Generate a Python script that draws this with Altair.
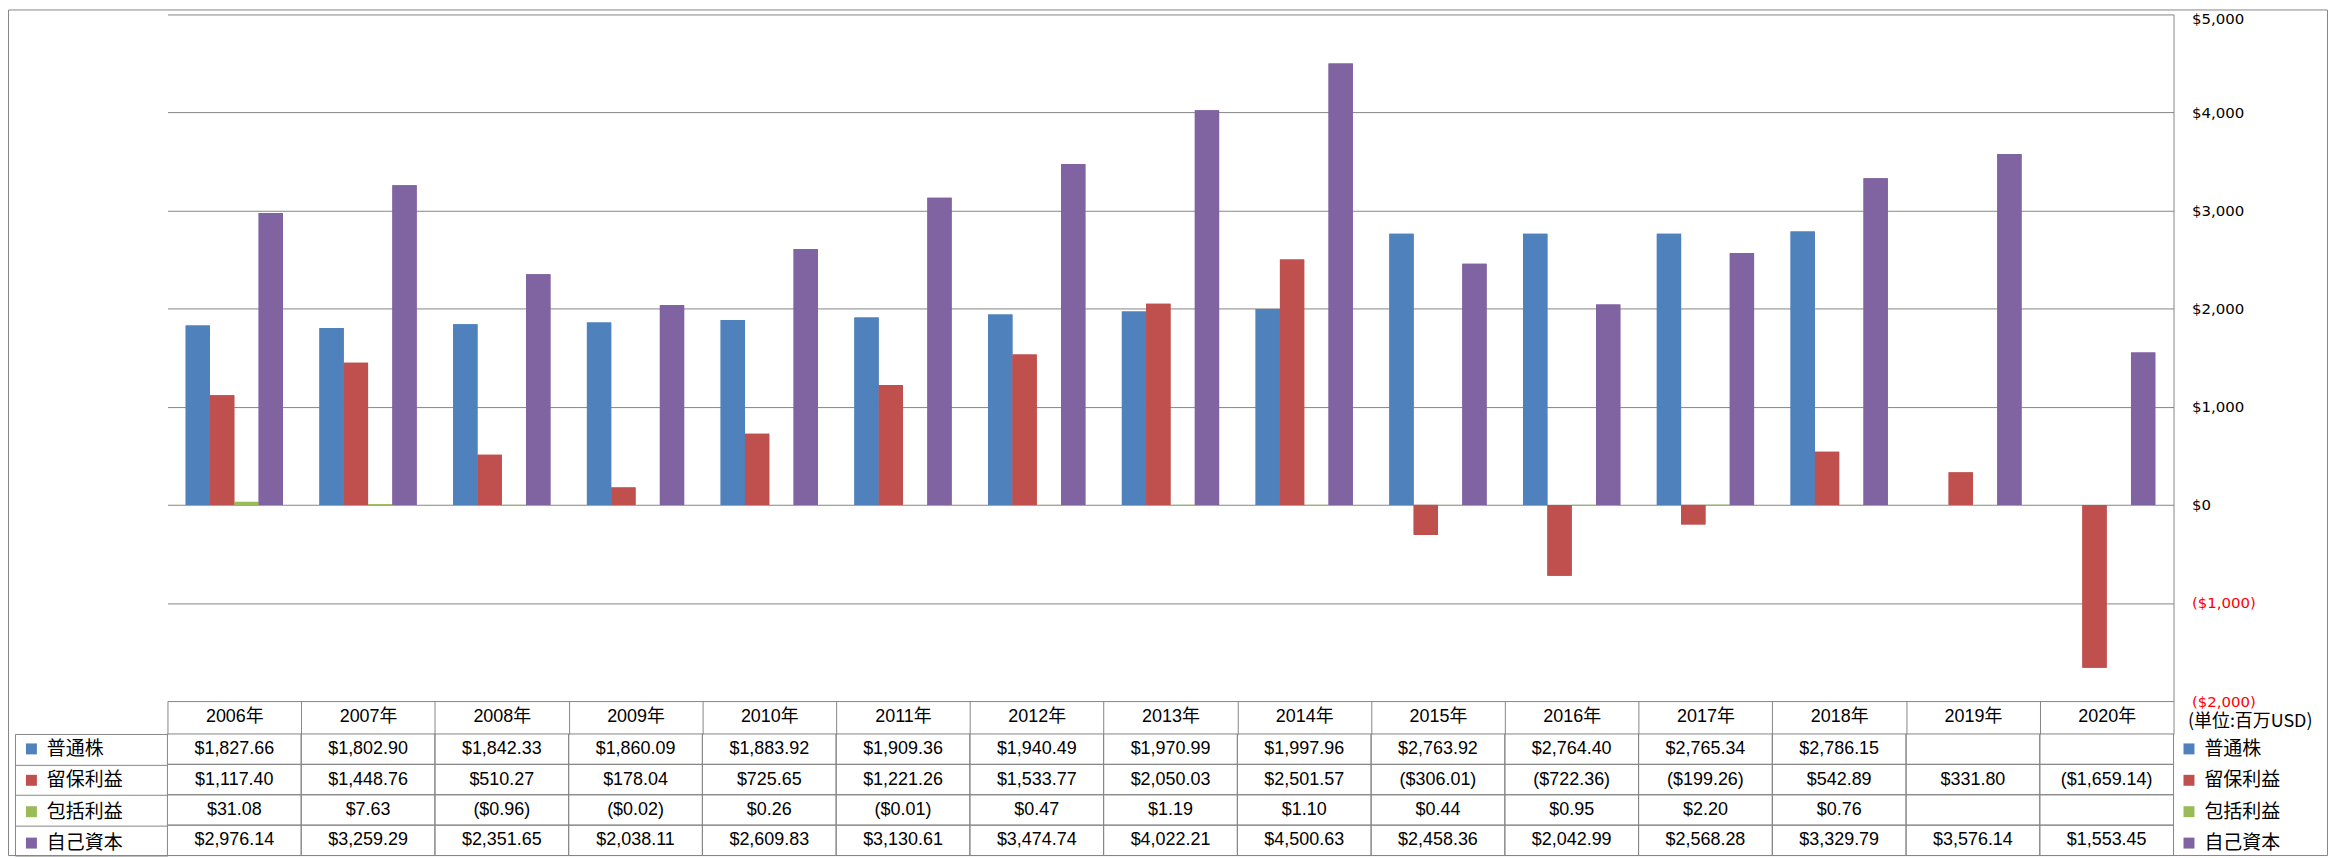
import altair as alt
import pandas as pd

years = ["2006年", "2007年", "2008年", "2009年", "2010年", "2011年", "2012年", "2013年",
         "2014年", "2015年", "2016年", "2017年", "2018年", "2019年", "2020年"]
series_names = ["普通株", "留保利益", "包括利益", "自己資本"]
colors = ["#4F81BD", "#C0504D", "#9BBB59", "#8064A2"]

common = [1827.66, 1802.90, 1842.33, 1860.09, 1883.92, 1909.36, 1940.49, 1970.99,
          1997.96, 2763.92, 2764.40, 2765.34, 2786.15, None, None]
retained = [1117.40, 1448.76, 510.27, 178.04, 725.65, 1221.26, 1533.77, 2050.03,
            2501.57, -306.01, -722.36, -199.26, 542.89, 331.80, -1659.14]
comprehensive = [31.08, 7.63, -0.96, -0.02, 0.26, -0.01, 0.47, 1.19,
                 1.10, 0.44, 0.95, 2.20, 0.76, None, None]
equity = [2976.14, 3259.29, 2351.65, 2038.11, 2609.83, 3130.61, 3474.74, 4022.21,
          4500.63, 2458.36, 2042.99, 2568.28, 3329.79, 3576.14, 1553.45]
y_ticks = [-2000, -1000, 0, 1000, 2000, 3000, 4000, 5000]
unit_label = "(単位:百万USD)"

GRID = "#868686"
NUM_FONT = "Liberation Sans, Noto Sans CJK JP"
CJK_FONT = "Noto Sans CJK JP"
AX_FONT = "DejaVu Sans"

W, H = 2013, 689


def fmt(v):
    if v is None:
        return ""
    s = f"${abs(v):,.2f}"
    return f"({s})" if v < 0 else s


rows = []
for name, vals in zip(series_names, [common, retained, comprehensive, equity]):
    for yr, v in zip(years, vals):
        rows.append({"year": yr, "series": name, "series_b": name,
                     "value": v, "label": fmt(v)})
df = pd.DataFrame(rows)

x_scale = alt.Scale(domain=years, paddingInner=0, paddingOuter=0)
xoff_scale = alt.Scale(domain=series_names, paddingInner=0, paddingOuter=0.75)
y_scale = alt.Scale(domain=[-2000, 5000], nice=False, zero=False)
row_scale = alt.Scale(domain=series_names, range=[722, 844], paddingInner=0, paddingOuter=0)

x_axis = alt.Axis(orient="bottom", title=None, domain=False, ticks=True, tickBand="extent",
                  tickSize=33, tickColor=GRID, tickWidth=1, grid=False, labelAngle=0,
                  labelFont=NUM_FONT, labelFontSize=18, labelColor="#000000",
                  labelBaseline="middle", labelPadding=-18, labelAlign="center")

y_axis = alt.Axis(orient="right", values=y_ticks, grid=True, gridColor=GRID, gridWidth=1,
                  gridOpacity=1, ticks=False, domain=True, domainColor=GRID, domainWidth=1,
                  labelExpr="datum.value < 0 ? '($' + format(-datum.value, ',') + ')' : '$' + format(datum.value, ',')",
                  labelColor={"condition": {"test": "datum.value < 0", "value": "#FF0000"},
                              "value": "#000000"},
                  labelOffset={"condition": {"test": "datum.value >= 5000", "value": 4},
                               "value": 0},
                  labelFont=AX_FONT, labelFontSize=15, labelPadding=18,
                  labelAlign="left", labelBaseline="middle", labelFlush=False,
                  title=unit_label, titleAngle=0, titleX=14, titleY=710,
                  titleAlign="left", titleBaseline="middle", titleFont=CJK_FONT,
                  titleFontSize=18, titleFontWeight="normal", titleColor="#000000")

row_axis = alt.Axis(orient="right", offset=-(W + 153), labels=False, ticks=True,
                    tickSize=153, tickBand="extent", tickColor=GRID, tickWidth=1,
                    domain=True, domainColor=GRID, domainWidth=1, grid=False, title=None)

legend_common = dict(orient="none", title=None, symbolType="square", symbolSize=121,
                     symbolStrokeWidth=0, labelFont=CJK_FONT, labelFontSize=19,
                     labelColor="#000000", labelOffset=6, rowPadding=11.5, padding=0,
                     direction="vertical", legendY=727.5)

base = alt.Chart(df).transform_filter("isValid(datum.value)")

bars = base.mark_bar().encode(
    x=alt.X("year:N", scale=x_scale, axis=x_axis, sort=years),
    xOffset=alt.XOffset("series:N", scale=xoff_scale, sort=series_names),
    y=alt.Y("value:Q", scale=y_scale, axis=y_axis),
    color=alt.Color("series:N", scale=alt.Scale(domain=series_names, range=colors),
                    legend=alt.Legend(legendX=-146, **legend_common)),
)

bars2 = base.mark_bar().encode(
    x=alt.X("year:N", scale=x_scale, axis=x_axis, sort=years),
    xOffset=alt.XOffset("series:N", scale=xoff_scale, sort=series_names),
    y=alt.Y("value:Q", scale=y_scale, axis=y_axis),
    fill=alt.Fill("series_b:N", sort=series_names, scale=alt.Scale(range=colors),
                  legend=alt.Legend(legendX=2019, **legend_common)),
)

bar_layer = alt.layer(bars, bars2)

cells = alt.Chart(df).mark_rect(fillOpacity=0, stroke=GRID, strokeWidth=1).encode(
    x=alt.X("year:N", scale=x_scale, axis=x_axis, sort=years),
    y=alt.Y("series:N", scale=row_scale, axis=row_axis, sort=series_names),
)

texts = alt.Chart(df).mark_text(font=NUM_FONT, fontSize=18, color="#000000",
                                align="center", baseline="middle").encode(
    x=alt.X("year:N", scale=x_scale, axis=x_axis, sort=years),
    y=alt.Y("series:N", scale=row_scale, axis=row_axis, sort=series_names),
    text="label:N",
)

table = alt.layer(cells, texts)

border = alt.Chart(pd.DataFrame({"k": [0]})).mark_rect(
    fillOpacity=0, stroke=GRID, strokeWidth=1).encode(
    x=alt.value(-159.5), x2=alt.value(W + 154.5), y=alt.value(-4.5), y2=alt.value(844))

chart = alt.layer(bar_layer, table, border).resolve_scale(y="independent").properties(
    width=W, height=H,
    padding={"left": 160, "top": 5, "right": 155, "bottom": 156},
    autosize=alt.AutoSizeParams(type="none"),
    background="#FFFFFF",
).configure_view(strokeWidth=0).configure_axisRight(
    labelFont=AX_FONT, labelFontSize=15, titleFont=CJK_FONT, titleFontSize=18,
    titleFontWeight="normal",
)

chart.save("out.html", embed_options={"renderer": "svg", "actions": False})
